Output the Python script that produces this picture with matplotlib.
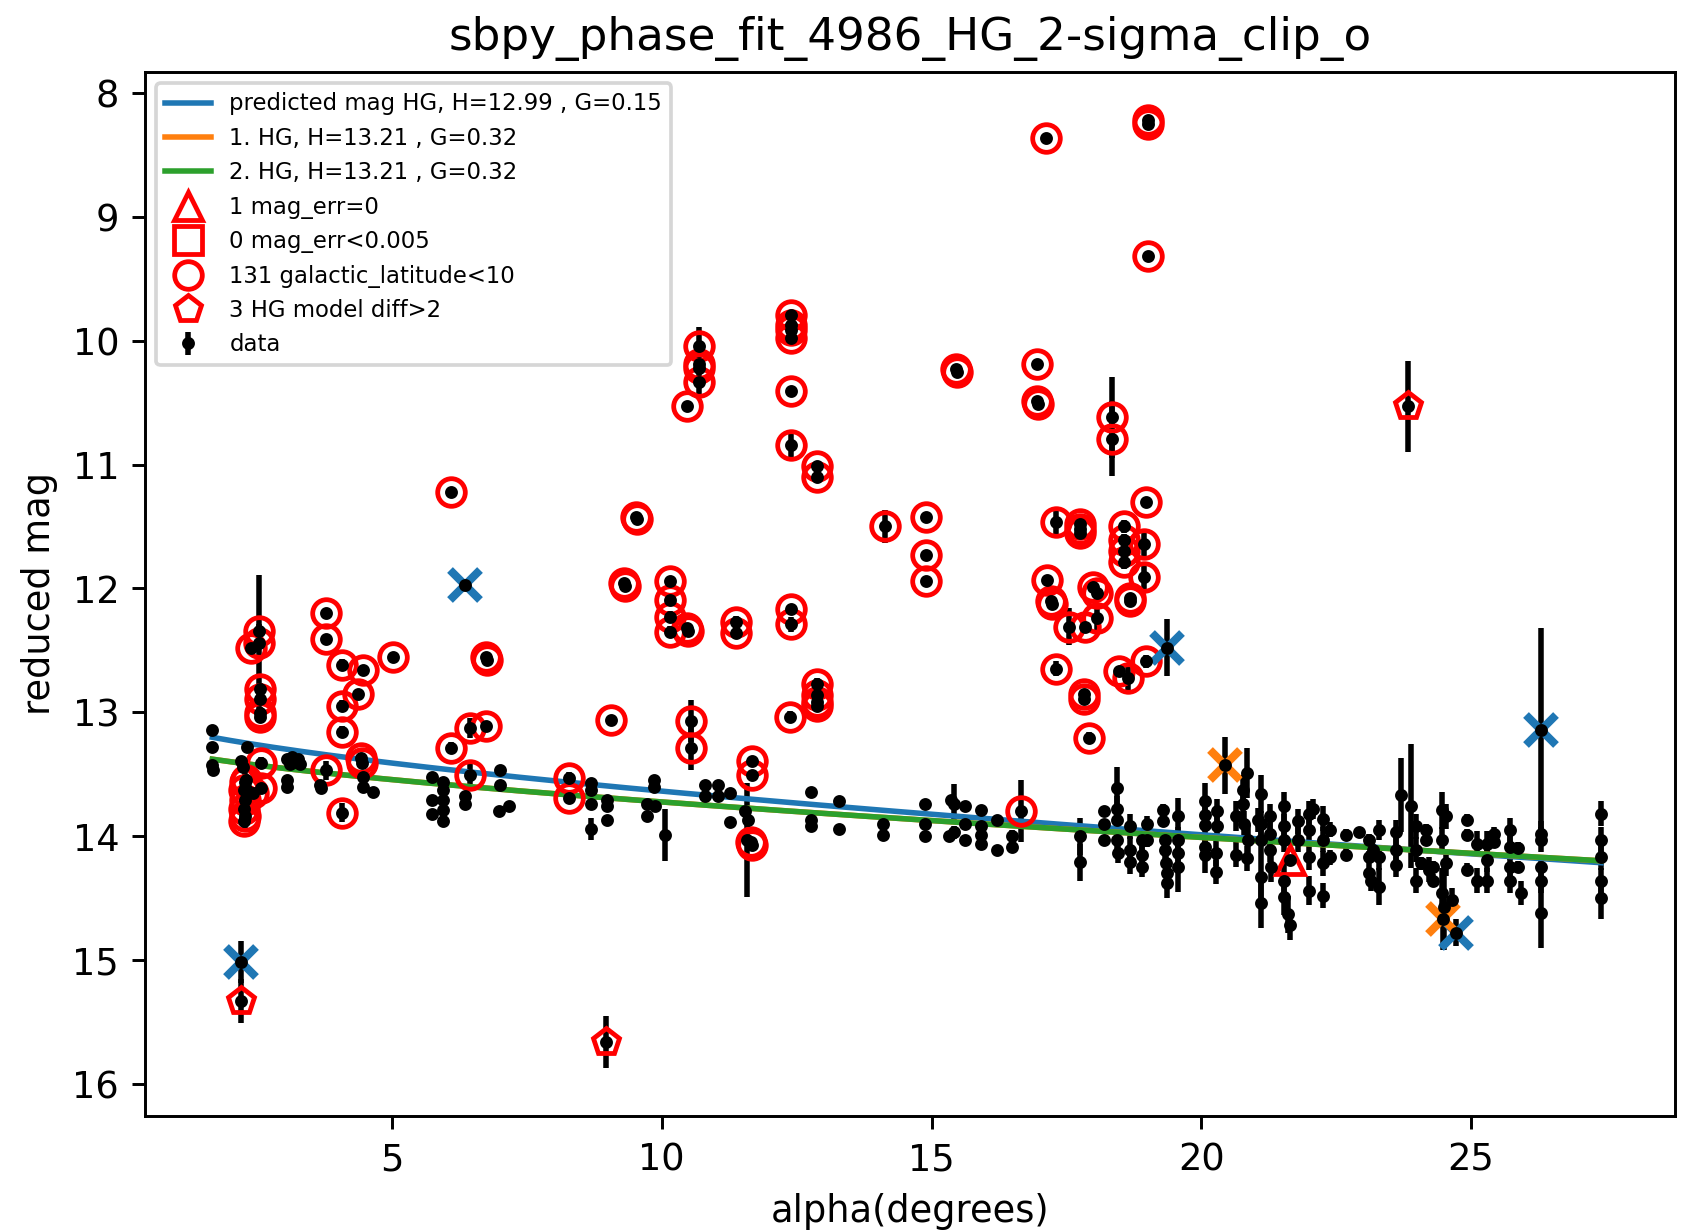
import numpy as np
import matplotlib
matplotlib.use("Agg")
import matplotlib.pyplot as plt

# phase angle (deg), reduced magnitude and uncertainty of the unflagged observations
field_alpha = [
    1.67, 1.67, 1.67, 1.68,
    2.21, 2.24, 2.32, 2.30,
    3.05, 3.10, 3.15, 3.20, 3.25, 3.30, 3.06, 3.06,
    3.66, 3.68,
    4.46, 4.64, 4.46,
    5.75, 5.75, 5.75,
    5.94, 5.94, 5.94, 5.94, 5.94,
    6.35, 6.35,
    7.01, 7.01, 7.17, 6.98,
    8.68, 8.68, 8.68, 8.68,
    8.98, 8.98, 8.98,
    9.85, 9.85, 9.72, 9.72, 9.88,
    10.06,
    10.80, 10.80, 11.05, 11.05, 11.26, 11.26,
    11.54, 11.60, 11.58,
    12.77, 12.77, 12.77,
    13.29, 13.29,
    14.10, 14.11,
    14.88, 14.88, 14.88,
    15.36, 15.42, 15.42, 15.33,
    15.63, 15.63, 15.63,
    15.92, 15.92, 15.92, 15.92,
    16.22, 16.22,
    16.50, 16.50,
    17.76, 17.76,
    18.20, 18.20, 18.20,
    18.43, 18.43, 18.43, 18.43, 18.45,
    18.68, 18.68, 18.68,
    18.90, 18.90, 18.90,
    19.00, 19.00,
    19.30, 19.30, 19.32, 19.32, 19.34, 19.36, 19.36,
    19.57, 19.57, 19.57, 19.57,
    20.07, 20.07, 20.07, 20.07, 20.07,
    20.30, 20.30, 20.28, 20.28,
    20.65, 20.65, 20.78, 20.78, 20.80, 20.84, 20.84, 20.87,
    21.05, 21.11, 21.11, 21.11, 21.11, 21.11,
    21.27, 21.27, 21.27, 21.30,
    21.54, 21.54, 21.54, 21.54, 21.54, 21.60, 21.64,
    21.79, 21.79, 22.00, 22.00, 22.00, 22.00, 22.07,
    22.25, 22.25, 22.25, 22.25, 22.38, 22.38,
    22.68, 22.68,
    22.92, 23.11, 23.11, 23.11, 23.18, 23.15,
    23.29, 23.29, 23.29,
    23.61, 23.61, 23.61,
    23.70, 23.88,
    23.98, 23.98, 23.98,
    24.16, 24.16, 24.22, 24.07, 24.29, 24.29,
    24.47, 24.47, 24.53, 24.53, 24.47, 24.50,
    24.65,
    24.93, 24.93, 24.93,
    25.12, 25.12,
    25.30, 25.30, 25.30,
    25.42, 25.42,
    25.73, 25.73, 25.73, 25.73, 25.88, 25.88, 25.92,
    26.30, 26.30, 26.30, 26.30, 26.30,
    27.41, 27.41, 27.41, 27.41, 27.41,
]
field_mag = [
    13.14, 13.28, 13.43, 13.47,
    13.39, 13.44, 13.28, 13.62,
    13.38, 13.42, 13.36, 13.40, 13.38, 13.42, 13.55, 13.60,
    13.59, 13.61,
    13.60, 13.64, 13.52,
    13.52, 13.71, 13.82,
    13.56, 13.63, 13.71, 13.79, 13.88,
    13.68, 13.74,
    13.47, 13.59, 13.76, 13.80,
    13.57, 13.63, 13.74, 13.94,
    13.71, 13.76, 13.87,
    13.55, 13.60, 13.74, 13.84, 13.76,
    13.99,
    13.59, 13.68, 13.59, 13.68, 13.65, 13.89,
    13.80, 13.87, 14.03,
    13.64, 13.87, 13.92,
    13.72, 13.94,
    13.90, 13.99,
    13.74, 13.90, 14.00,
    13.71, 13.74, 13.97, 14.00,
    13.76, 13.90, 14.03,
    13.79, 13.92, 13.99, 14.06,
    13.87, 14.11,
    14.00, 14.09,
    14.00, 14.21,
    13.80, 13.90, 14.03,
    13.61, 13.78, 13.87, 14.03, 14.14,
    13.92, 14.11, 14.21,
    14.03, 14.15, 14.25,
    13.90, 14.03,
    13.79, 13.88, 14.03, 14.11, 14.22, 14.30, 14.38,
    13.84, 14.03, 14.14, 14.25,
    13.72, 13.83, 13.91, 14.09, 14.15,
    13.80, 13.92, 14.14, 14.29,
    13.84, 14.15, 13.63, 13.74, 13.90, 13.49, 14.18, 14.03,
    13.87, 13.66, 13.90, 14.03, 14.33, 14.54,
    13.84, 13.98, 14.11, 14.25,
    13.76, 13.92, 14.03, 14.36, 14.49, 14.63, 14.72,
    13.88, 14.03, 13.82, 13.95, 14.17, 14.44, 13.78,
    13.86, 14.03, 14.22, 14.48, 13.95, 14.17,
    13.99, 14.15,
    13.97, 14.03, 14.17, 14.30, 14.11, 14.36,
    13.95, 14.17, 14.41,
    14.11, 14.23, 13.97,
    13.67, 13.76,
    13.92, 14.11, 14.36,
    13.95, 14.03, 14.27, 14.22, 14.25, 14.36,
    13.79, 14.03, 13.84, 14.22, 14.46, 14.57,
    14.52,
    13.99, 14.27, 13.87,
    14.06, 14.36,
    14.06, 14.19, 14.36,
    13.98, 14.05,
    13.95, 14.09, 14.25, 14.36, 14.10, 14.25, 14.46,
    13.98, 14.03, 14.25, 14.36, 14.62,
    13.82, 14.03, 14.17, 14.36, 14.50,
]
field_err = [
    0.03, 0.03, 0.04, 0.04,
    0.04, 0.04, 0.03, 0.05,
    0.04, 0.03, 0.03, 0.03, 0.03, 0.03, 0.04, 0.04,
    0.03, 0.03,
    0.03, 0.03, 0.03,
    0.03, 0.03, 0.03,
    0.03, 0.04, 0.04, 0.04, 0.05,
    0.03, 0.03,
    0.03, 0.03, 0.03, 0.03,
    0.03, 0.03, 0.03, 0.09,
    0.03, 0.03, 0.03,
    0.03, 0.03, 0.03, 0.03, 0.03,
    0.21,
    0.03, 0.03, 0.03, 0.03, 0.03, 0.03,
    0.03, 0.03, 0.46,
    0.03, 0.03, 0.03,
    0.03, 0.03,
    0.05, 0.05,
    0.03, 0.03, 0.03,
    0.03, 0.16, 0.05, 0.03,
    0.04, 0.04, 0.04,
    0.04, 0.04, 0.04, 0.04,
    0.03, 0.03,
    0.05, 0.05,
    0.15, 0.15,
    0.04, 0.04, 0.04,
    0.17, 0.10, 0.10, 0.10, 0.08,
    0.10, 0.10, 0.10,
    0.08, 0.08, 0.08,
    0.06, 0.06,
    0.05, 0.05, 0.08, 0.08, 0.10, 0.10, 0.12,
    0.15, 0.10, 0.10, 0.20,
    0.15, 0.10, 0.10, 0.10, 0.15,
    0.10, 0.10, 0.10, 0.10,
    0.12, 0.10, 0.12, 0.10, 0.10, 0.20, 0.10, 0.12,
    0.10, 0.15, 0.10, 0.10, 0.20, 0.20,
    0.10, 0.10, 0.10, 0.12,
    0.12, 0.10, 0.10, 0.15, 0.15, 0.15, 0.12,
    0.10, 0.10, 0.10, 0.10, 0.10, 0.12, 0.08,
    0.10, 0.10, 0.10, 0.10, 0.06, 0.06,
    0.05, 0.05,
    0.04, 0.05, 0.05, 0.08, 0.05, 0.08,
    0.08, 0.10, 0.15,
    0.10, 0.10, 0.10,
    0.30, 0.50,
    0.10, 0.10, 0.10,
    0.05, 0.05, 0.10, 0.05, 0.05, 0.05,
    0.15, 0.10, 0.10, 0.10, 0.20, 0.35,
    0.10,
    0.05, 0.05, 0.05,
    0.10, 0.10,
    0.10, 0.10, 0.10,
    0.05, 0.05,
    0.10, 0.10, 0.10, 0.10, 0.05, 0.05, 0.10,
    0.10, 0.10, 0.10, 0.10, 0.28,
    0.10, 0.10, 0.10, 0.10, 0.17,
]

# observations close to the galactic plane
lowlat_alpha = [
    2.54, 2.54, 2.38, 2.56, 2.56, 2.56, 2.56, 2.58, 2.58,
    2.30, 2.28, 2.26, 2.28, 2.26, 2.28, 2.26, 2.43,
    3.78, 3.78, 3.78,
    4.08, 4.46, 4.37, 4.08, 4.08, 4.43, 4.45, 4.08,
    5.01,
    6.09, 6.09, 6.44, 6.44, 6.74, 6.75, 6.76,
    8.28, 8.28,
    9.05, 9.30, 9.31, 9.52, 9.55,
    10.46, 10.69, 10.69, 10.69, 10.69,
    10.16, 10.16, 10.16, 10.16, 10.46, 10.48,
    10.55, 10.55,
    11.37, 11.37,
    11.67, 11.67, 11.66, 11.68,
    12.39, 12.39, 12.39, 12.39, 12.39, 12.39, 12.39, 12.39, 12.38,
    12.88, 12.88, 12.88, 12.88, 12.88, 12.88,
    14.13, 14.90, 14.90, 14.90,
    15.46, 15.48,
    16.66,
    16.96, 16.96, 16.97,
    17.13,
    19.02, 19.02, 19.02,
    18.34, 18.34, 18.98,
    17.30, 17.75, 17.75, 17.76,
    18.56, 18.56, 18.56, 18.56,
    18.93, 18.93, 18.67, 18.68,
    17.14, 17.22, 17.23,
    17.54, 17.85,
    18.00, 18.06, 18.07,
    17.30, 18.47, 18.65, 18.98,
    17.82, 17.83, 17.91,
]
lowlat_mag = [
    12.34, 12.44, 12.48, 12.81, 12.89, 13.01, 13.04, 13.41, 13.61,
    13.55, 13.56, 13.63, 13.71, 13.78, 13.84, 13.88, 13.65,
    12.20, 12.41, 13.47,
    12.62, 12.66, 12.85, 12.95, 13.16, 13.37, 13.41, 13.81,
    12.55,
    11.22, 13.29, 13.13, 13.51, 13.11, 12.55, 12.58,
    13.53, 13.69,
    13.06, 11.96, 11.98, 11.42, 11.44,
    10.53, 10.04, 10.19, 10.22, 10.33,
    11.94, 12.09, 12.23, 12.35, 12.32, 12.34,
    13.07, 13.29,
    12.27, 12.36,
    13.39, 13.51, 14.05, 14.07,
    9.79, 9.87, 9.91, 9.98, 10.41, 10.84, 12.17, 12.29, 13.04,
    11.01, 11.10, 12.77, 12.86, 12.92, 12.95,
    11.50, 11.42, 11.73, 11.94,
    10.23, 10.25,
    13.80,
    10.19, 10.49, 10.51,
    8.36,
    8.22, 8.25, 9.32,
    10.62, 10.79, 11.30,
    11.46, 11.48, 11.52, 11.55,
    11.50, 11.61, 11.70, 11.79,
    11.64, 11.91, 12.08, 12.10,
    11.93, 12.10, 12.13,
    12.31, 12.31,
    11.99, 12.04, 12.24,
    12.65, 12.67, 12.72, 12.59,
    12.85, 12.89, 13.21,
]
lowlat_err = [
    0.05, 0.55, 0.05, 0.05, 0.05, 0.05, 0.05, 0.05, 0.05,
    0.05, 0.05, 0.05, 0.25, 0.05, 0.05, 0.05, 0.05,
    0.02, 0.02, 0.08,
    0.05, 0.02, 0.02, 0.05, 0.05, 0.03, 0.03, 0.08,
    0.02,
    0.02, 0.05, 0.08, 0.12, 0.03, 0.03, 0.03,
    0.05, 0.03,
    0.04, 0.02, 0.02, 0.03, 0.03,
    0.02, 0.15, 0.05, 0.05, 0.10,
    0.03, 0.05, 0.05, 0.05, 0.03, 0.03,
    0.17, 0.18,
    0.05, 0.03,
    0.04, 0.04, 0.04, 0.04,
    0.03, 0.03, 0.03, 0.03, 0.04, 0.11, 0.04, 0.06, 0.05,
    0.03, 0.03, 0.05, 0.05, 0.05, 0.04,
    0.13, 0.04, 0.03, 0.04,
    0.02, 0.02,
    0.25,
    0.02, 0.02, 0.02,
    0.02,
    0.02, 0.02, 0.02,
    0.33, 0.30, 0.03,
    0.12, 0.03, 0.03, 0.03,
    0.05, 0.05, 0.05, 0.05,
    0.10, 0.10, 0.04, 0.04,
    0.03, 0.03, 0.03,
    0.15, 0.03,
    0.03, 0.03, 0.12,
    0.06, 0.03, 0.12, 0.05,
    0.03, 0.03, 0.05,
]

# points more than 2 mag away from the HG model
outlier_alpha = [2.21, 8.96, 23.84]
outlier_mag = [15.33, 15.66, 10.53]
outlier_err = [0.18, 0.21, 0.37]

# point reported without an uncertainty
zeroerr_alpha = [21.64]
zeroerr_mag = [14.19]

# points removed by the first and second sigma clipping pass
clip1_alpha = [2.21, 6.35, 19.36, 26.30, 24.72]
clip1_mag = [15.02, 11.97, 12.48, 13.14, 14.78]
clip1_err = [0.17, 0.02, 0.23, 0.82, 0.11]
clip2_alpha = [20.44, 24.48]
clip2_mag = [13.43, 14.67]
clip2_err = [0.23, 0.25]

# HG fit parameters
H_pred, G_pred = 12.99, 0.15
H_fit1, G_fit1 = 13.21, 0.32
H_fit2, G_fit2 = 13.21, 0.32


def hg_mag(alpha_deg, H, G):
    t = np.tan(np.radians(alpha_deg) / 2.0)
    phi1 = np.exp(-3.33 * t ** 0.63)
    phi2 = np.exp(-1.87 * t ** 1.22)
    return H - 2.5 * np.log10((1 - G) * phi1 + G * phi2)


all_alpha = field_alpha + lowlat_alpha + outlier_alpha + zeroerr_alpha + clip1_alpha + clip2_alpha
all_mag = field_mag + lowlat_mag + outlier_mag + zeroerr_mag + clip1_mag + clip2_mag
all_err = field_err + lowlat_err + outlier_err + [0.0] * len(zeroerr_alpha) + clip1_err + clip2_err

dpi = 265
fig = plt.figure(figsize=(1691 / dpi, 1230 / dpi), dpi=dpi)
ax = fig.add_axes([0.0857, 0.0927, 0.9048, 0.8488])

ax.errorbar(all_alpha, all_mag, yerr=all_err, fmt="k.", ms=5, ecolor="k",
            elinewidth=1.5, capsize=0, label="data")

a_grid = np.linspace(min(all_alpha), max(all_alpha), 300)
ax.plot(a_grid, hg_mag(a_grid, H_pred, G_pred), color="C0",
        label="predicted mag HG, H={:.2f} , G={:.2f}".format(H_pred, G_pred))
ax.plot(a_grid, hg_mag(a_grid, H_fit1, G_fit1), color="C1",
        label="1. HG, H={:.2f} , G={:.2f}".format(H_fit1, G_fit1))
ax.plot(a_grid, hg_mag(a_grid, H_fit2, G_fit2), color="C2",
        label="2. HG, H={:.2f} , G={:.2f}".format(H_fit2, G_fit2))

flag_kw = dict(linestyle="none", mfc="none", mec="r", ms=7.5, mew=1.3)
ax.plot(zeroerr_alpha, zeroerr_mag, marker="^", label="1 mag_err=0", **flag_kw)
ax.plot([], [], marker="s", label="0 mag_err<0.005", **flag_kw)
ax.plot(lowlat_alpha, lowlat_mag, marker="o", label="131 galactic_latitude<10", **flag_kw)
ax.plot(outlier_alpha, outlier_mag, marker="p", label="3 HG model diff>2", **flag_kw)

ax.plot(clip1_alpha, clip1_mag, "x", color="C0", ms=8, mew=2.2)
ax.plot(clip2_alpha, clip2_mag, "x", color="C1", ms=8, mew=2.2)

ax.set_xlim(0.42, 28.78)
ax.set_ylim(16.26, 7.83)
ax.set_xticks([5, 10, 15, 20, 25])
ax.set_yticks(range(8, 17))
ax.set_xlabel("alpha(degrees)")
ax.set_ylabel("reduced mag")
ax.set_title("sbpy_phase_fit_4986_HG_2-sigma_clip_o", fontsize=12.3)
ax.legend(loc="upper left", fontsize=6.2, labelspacing=0.5)

fig.savefig("out.png", dpi=dpi)
